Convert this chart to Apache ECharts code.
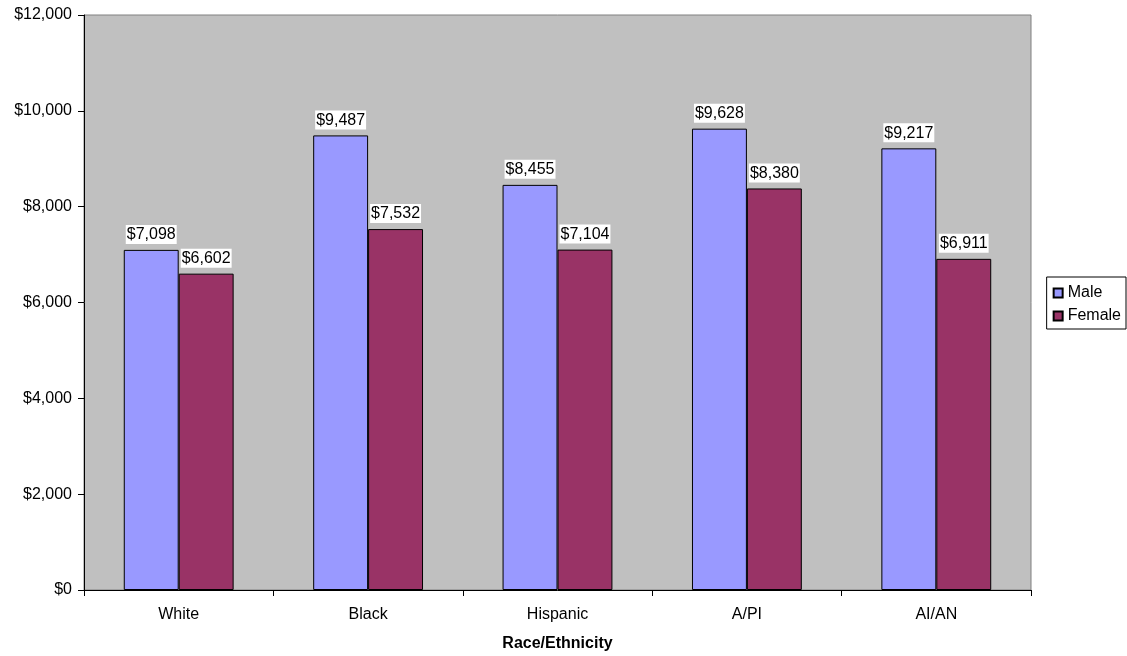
<!DOCTYPE html>
<html><head><meta charset="utf-8">
<script src="https://cdn.jsdelivr.net/npm/echarts@6/dist/echarts.min.js"></script>
<style>html,body{margin:0;padding:0;background:#fff}#c{width:1127px;height:656px}</style>
</head><body><div id="c"></div>
<script>
const categories = ['White', 'Black', 'Hispanic', 'A/PI', 'AI/AN'];
const maleValues = [7098, 9487, 8455, 9628, 9217];
const femaleValues = [6602, 7532, 7104, 8380, 6911];
const seriesNames = ['Male', 'Female'];
const xAxisTitle = 'Race/Ethnicity';

const chart = echarts.init(document.getElementById('c'));
const fmt = v => '$' + v.toLocaleString('en-US');
const font = 'Liberation Sans, Arial, sans-serif';
const labelCfg = {
  show: true, position: 'top', distance: 6,
  formatter: p => fmt(p.value),
  color: '#000', fontFamily: font, fontSize: 16,
  backgroundColor: '#fff', padding: [2, 1, 1, 1]
};
chart.setOption({
  animation: false,
  textStyle: { fontFamily: font },
  grid: { left: 84, right: 96, top: 15, bottom: 66, show: true, backgroundColor: '#C0C0C0', borderColor: '#808080', borderWidth: 1, containLabel: false, outerBoundsMode: 'none' },
  legend: {
    orient: 'vertical', right: 1, top: 277,
    data: seriesNames,
    itemWidth: 9, itemHeight: 9, itemGap: 7,
    textStyle: { fontSize: 16, color: '#000', fontFamily: font },
    borderColor: '#000', borderWidth: 1, padding: [8, 5, 5, 6],
    icon: 'rect'
  },
  xAxis: {
    type: 'category', data: categories,
    name: xAxisTitle, nameLocation: 'middle', nameGap: 46,
    nameTextStyle: { fontWeight: 'bold', fontSize: 16, color: '#000', fontFamily: font },
    axisLine: { lineStyle: { color: '#000' } },
    axisTick: { show: true, length: 6, lineStyle: { color: '#000' } },
    axisLabel: { color: '#000', fontSize: 16, margin: 17, fontFamily: font }
  },
  yAxis: {
    type: 'value', min: 0, max: 12000, interval: 2000,
    axisLine: { show: true, lineStyle: { color: '#000' } },
    axisTick: { show: true, length: 6, lineStyle: { color: '#000' } },
    splitLine: { show: false },
    axisLabel: { color: '#000', fontSize: 16, margin: 12, fontFamily: font, formatter: v => fmt(v) }
  },
  series: [
    { name: seriesNames[0], type: 'bar', data: maleValues, barGap: '0%', barCategoryGap: '42%',
      itemStyle: { color: '#9999FF', borderColor: '#000', borderWidth: 1 }, label: labelCfg },
    { name: seriesNames[1], type: 'bar', data: femaleValues,
      itemStyle: { color: '#993366', borderColor: '#000', borderWidth: 1 }, label: labelCfg }
  ]
});
</script></body></html>
